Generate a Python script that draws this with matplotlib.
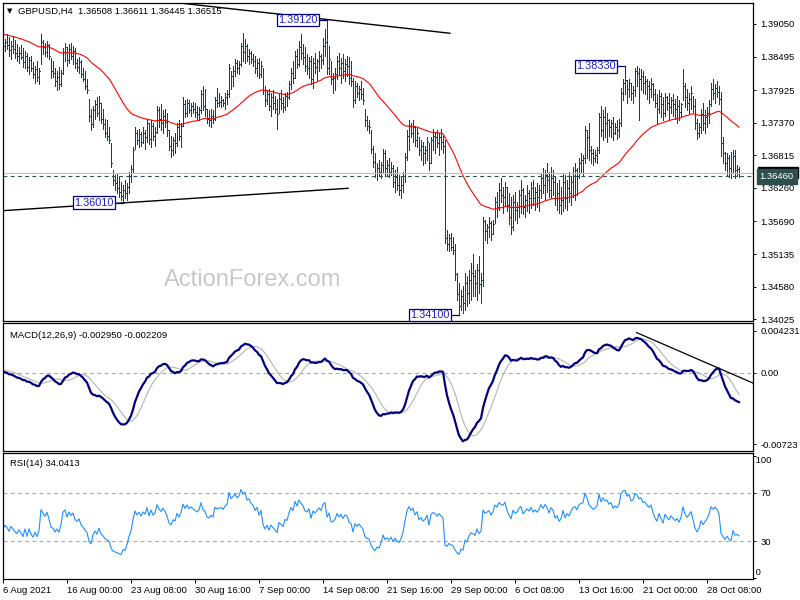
import numpy as np
import matplotlib
matplotlib.use("Agg")
import matplotlib.pyplot as plt
from matplotlib.patches import Rectangle

# ---------------- data (GBPUSD H4) ----------------
highs = [
1.3885,1.3880,1.3888,1.3883,1.3876,1.3885,1.3878,1.3871,1.3866,1.3870,
1.3864,1.3859,1.3856,1.3849,1.3851,1.3840,1.3834,1.3842,1.3830,1.3888,
1.3878,1.3873,1.3876,1.3871,1.3847,1.3842,1.3830,1.3825,1.3832,1.3827,
1.3864,1.3873,1.3866,1.3871,1.3873,1.3868,1.3864,1.3846,1.3849,1.3844,
1.3830,1.3825,1.3812,1.3778,1.3760,1.3766,1.3775,1.3780,1.3783,1.3771,
1.3761,1.3744,1.3741,1.3729,1.3702,1.3656,1.3648,1.3651,1.3644,1.3636,
1.3631,1.3639,1.3634,1.3653,1.3665,1.3695,1.3729,1.3724,1.3727,1.3722,
1.3729,1.3724,1.3744,1.3737,1.3741,1.3736,1.3729,1.3766,1.3763,1.3768,
1.3758,1.3761,1.3754,1.3724,1.3715,1.3712,1.3720,1.3736,1.3741,1.3736,
1.3780,1.3775,1.3778,1.3775,1.3771,1.3773,1.3770,1.3766,1.3763,1.3792,
1.3800,1.3795,1.3761,1.3758,1.3761,1.3758,1.3780,1.3796,1.3787,1.3783,
1.3778,1.3787,1.3792,1.3837,1.3825,1.3834,1.3846,1.3844,1.3842,1.3873,
1.3890,1.3880,1.3871,1.3863,1.3859,1.3854,1.3851,1.3846,1.3847,1.3842,
1.3830,1.3800,1.3792,1.3795,1.3788,1.3792,1.3783,1.3778,1.3785,1.3792,
1.3780,1.3788,1.3790,1.3808,1.3830,1.3842,1.3859,1.3863,1.3876,1.3888,
1.3871,1.3866,1.3854,1.3849,1.3851,1.3847,1.3856,1.3846,1.3859,1.3854,
1.3881,1.3897,1.3912,1.3868,1.3842,1.3822,1.3830,1.3851,1.3856,1.3847,
1.3854,1.3846,1.3851,1.3849,1.3842,1.3813,1.3808,1.3805,1.3800,1.3808,
1.3796,1.3761,1.3749,1.3741,1.3724,1.3698,1.3685,1.3668,1.3673,1.3670,
1.3693,1.3690,1.3673,1.3677,1.3670,1.3665,1.3656,1.3661,1.3648,1.3644,
1.3653,1.3685,1.3724,1.3741,1.3737,1.3741,1.3732,1.3729,1.3712,1.3707,
1.3704,1.3698,1.3712,1.3702,1.3712,1.3727,1.3720,1.3724,1.3719,1.3727,
1.3715,1.3707,1.3555,1.3547,1.3550,1.3543,1.3530,1.3482,1.3465,1.3453,
1.3459,1.3482,1.3476,1.3487,1.3499,1.3513,1.3487,1.3496,1.3510,1.3482,
1.3577,1.3572,1.3564,1.3577,1.3569,1.3572,1.3611,1.3619,1.3634,1.3643,
1.3628,1.3636,1.3628,1.3617,1.3611,1.3614,1.3619,1.3602,1.3622,1.3639,
1.3626,1.3614,1.3631,1.3622,1.3636,1.3639,1.3628,1.3634,1.3631,1.3651,
1.3660,1.3656,1.3668,1.3653,1.3661,1.3656,1.3646,1.3634,1.3639,1.3628,
1.3651,1.3648,1.3639,1.3653,1.3646,1.3661,1.3668,1.3660,1.3677,1.3685,
1.3682,1.3732,1.3724,1.3737,1.3698,1.3693,1.3690,1.3695,1.3754,1.3766,
1.3758,1.3763,1.3754,1.3744,1.3741,1.3746,1.3737,1.3741,1.3744,1.3796,
1.3812,1.3833,1.3810,1.3812,1.3805,1.3800,1.3830,1.3834,1.3830,1.3829,
1.3825,1.3817,1.3812,1.3808,1.3813,1.3805,1.3795,1.3785,1.3792,1.3788,
1.3780,1.3788,1.3783,1.3787,1.3780,1.3785,1.3778,1.3783,1.3775,1.3771,
1.3829,1.3805,1.3795,1.3788,1.3800,1.3783,1.3778,1.3744,1.3737,1.3761,
1.3771,1.3758,1.3763,1.3775,1.3805,1.3812,1.3803,1.3808,1.3800,1.3790,
1.3712,1.3687,1.3685,1.3682,1.3687,1.3690,1.3690,1.3665,1.36611]

lows = [
1.3856,1.3859,1.3863,1.3851,1.3846,1.3856,1.3847,1.3842,1.3839,1.3846,
1.3832,1.3830,1.3825,1.3820,1.3825,1.3813,1.3805,1.3808,1.3803,1.3837,
1.3854,1.3851,1.3849,1.3846,1.3813,1.3815,1.3800,1.3792,1.3795,1.3800,
1.3820,1.3842,1.3834,1.3839,1.3846,1.3837,1.3830,1.3825,1.3822,1.3815,
1.3808,1.3795,1.3787,1.3740,1.3724,1.3730,1.3744,1.3749,1.3741,1.3737,
1.3727,1.3712,1.3707,1.3702,1.3661,1.3631,1.3622,1.3617,1.3611,1.3605,
1.3601,1.3609,1.3605,1.3617,1.3636,1.3651,1.3693,1.3700,1.3695,1.3698,
1.3702,1.3693,1.3704,1.3700,1.3695,1.3707,1.3698,1.3720,1.3729,1.3724,
1.3719,1.3729,1.3715,1.3690,1.3678,1.3682,1.3685,1.3698,1.3707,1.3695,
1.3732,1.3746,1.3749,1.3753,1.3749,1.3754,1.3746,1.3744,1.3741,1.3754,
1.3758,1.3749,1.3737,1.3732,1.3729,1.3736,1.3741,1.3763,1.3766,1.3763,
1.3766,1.3761,1.3768,1.3780,1.3795,1.3800,1.3817,1.3822,1.3820,1.3834,
1.3842,1.3839,1.3842,1.3837,1.3839,1.3834,1.3822,1.3817,1.3813,1.3815,
1.3785,1.3766,1.3768,1.3758,1.3749,1.3761,1.3754,1.3727,1.3753,1.3761,
1.3756,1.3758,1.3766,1.3778,1.3795,1.3805,1.3813,1.3830,1.3834,1.3846,
1.3837,1.3825,1.3820,1.3813,1.3803,1.3796,1.3822,1.3808,1.3825,1.3830,
1.3837,1.3851,1.3820,1.3820,1.3803,1.3788,1.3792,1.3812,1.3820,1.3805,
1.3813,1.3808,1.3817,1.3803,1.3800,1.3763,1.3771,1.3780,1.3775,1.3778,
1.3768,1.3732,1.3724,1.3720,1.3685,1.3661,1.3644,1.3639,1.3646,1.3643,
1.3651,1.3646,1.3648,1.3644,1.3648,1.3628,1.3619,1.3622,1.3614,1.3609,
1.3619,1.3636,1.3673,1.3690,1.3712,1.3704,1.3698,1.3695,1.3682,1.3673,
1.3665,1.3668,1.3673,1.3656,1.3668,1.3690,1.3685,1.3695,1.3682,1.3693,
1.3685,1.3533,1.3521,1.3518,1.3521,1.3513,1.3470,1.3436,1.3410,1.3419,
1.3414,1.3419,1.3425,1.3431,1.3436,1.3442,1.3442,1.3436,1.3448,1.3431,
1.3459,1.3538,1.3533,1.3543,1.3538,1.3547,1.3567,1.3577,1.3589,1.3602,
1.3584,1.3597,1.3586,1.3564,1.3547,1.3555,1.3572,1.3567,1.3577,1.3584,
1.3581,1.3577,1.3586,1.3584,1.3592,1.3597,1.3589,1.3594,1.3586,1.3609,
1.3617,1.3605,1.3619,1.3611,1.3609,1.3614,1.3597,1.3589,1.3584,1.3581,
1.3586,1.3592,1.3589,1.3602,1.3597,1.3611,1.3605,1.3614,1.3643,1.3651,
1.3648,1.3668,1.3677,1.3673,1.3668,1.3665,1.3670,1.3668,1.3685,1.3715,
1.3707,1.3712,1.3704,1.3715,1.3712,1.3707,1.3717,1.3710,1.3712,1.3732,
1.3775,1.3785,1.3771,1.3780,1.3775,1.3770,1.3783,1.3800,1.3741,1.3792,
1.3788,1.3785,1.3778,1.3771,1.3780,1.3775,1.3763,1.3737,1.3754,1.3746,
1.3741,1.3749,1.3758,1.3744,1.3754,1.3749,1.3744,1.3737,1.3741,1.3746,
1.3775,1.3763,1.3758,1.3754,1.3761,1.3756,1.3727,1.3710,1.3712,1.3719,
1.3724,1.3720,1.3729,1.3737,1.3766,1.3778,1.3771,1.3780,1.3768,1.3680,
1.3668,1.3656,1.3648,1.3644,1.3643,1.3653,1.3643,1.3646,1.36445]

closes = [
1.3868,1.3875,1.3870,1.3860,1.3868,1.3862,1.3855,1.3851,1.3856,1.3849,
1.3840,1.3851,1.3832,1.3844,1.3830,1.3820,1.3828,1.3815,1.3825,1.3875,
1.3866,1.3858,1.3869,1.3851,1.3825,1.3822,1.3808,1.3815,1.3803,1.3822,
1.3858,1.3866,1.3844,1.3862,1.3851,1.3859,1.3839,1.3832,1.3840,1.3820,
1.3812,1.3800,1.3792,1.3749,1.3735,1.3758,1.3768,1.3754,1.3770,1.3744,
1.3735,1.3720,1.3715,1.3707,1.3668,1.3640,1.3634,1.3626,1.3619,1.3612,
1.3622,1.3617,1.3628,1.3646,1.3658,1.3690,1.3720,1.3707,1.3717,1.3705,
1.3719,1.3712,1.3736,1.3710,1.3732,1.3715,1.3722,1.3758,1.3744,1.3736,
1.3749,1.3739,1.3724,1.3698,1.3690,1.3707,1.3702,1.3729,1.3715,1.3732,
1.3768,1.3754,1.3770,1.3758,1.3766,1.3760,1.3756,1.3751,1.3758,1.3785,
1.3766,1.3761,1.3744,1.3741,1.3749,1.3744,1.3775,1.3771,1.3773,1.3775,
1.3771,1.3780,1.3785,1.3830,1.3817,1.3825,1.3839,1.3830,1.3837,1.3868,
1.3858,1.3868,1.3851,1.3856,1.3846,1.3842,1.3830,1.3839,1.3820,1.3834,
1.3792,1.3775,1.3785,1.3766,1.3780,1.3770,1.3761,1.3751,1.3778,1.3771,
1.3763,1.3783,1.3780,1.3803,1.3822,1.3813,1.3851,1.3837,1.3866,1.3856,
1.3849,1.3834,1.3830,1.3842,1.3812,1.3839,1.3832,1.3842,1.3851,1.3844,
1.3868,1.3875,1.3830,1.3846,1.3812,1.3813,1.3820,1.3842,1.3830,1.3839,
1.3825,1.3837,1.3834,1.3813,1.3808,1.3775,1.3800,1.3788,1.3795,1.3785,
1.3775,1.3741,1.3732,1.3729,1.3693,1.3670,1.3651,1.3660,1.3653,1.3665,
1.3685,1.3660,1.3665,1.3653,1.3660,1.3636,1.3644,1.3631,1.3622,1.3631,
1.3646,1.3678,1.3715,1.3732,1.3720,1.3729,1.3707,1.3719,1.3690,1.3698,
1.3685,1.3690,1.3704,1.3668,1.3707,1.3715,1.3712,1.3702,1.3712,1.3704,
1.3698,1.3540,1.3530,1.3540,1.3526,1.3521,1.3479,1.3445,1.3425,1.3442,
1.3431,1.3465,1.3448,1.3470,1.3482,1.3476,1.3465,1.3487,1.3462,1.3470,
1.3569,1.3552,1.3559,1.3567,1.3547,1.3564,1.3602,1.3594,1.3622,1.3614,
1.3611,1.3628,1.3597,1.3577,1.3560,1.3602,1.3589,1.3594,1.3614,1.3622,
1.3594,1.3605,1.3617,1.3609,1.3626,1.3609,1.3619,1.3611,1.3622,1.3643,
1.3631,1.3648,1.3639,1.3622,1.3643,1.3636,1.3609,1.3617,1.3597,1.3605,
1.3636,1.3609,1.3626,1.3617,1.3636,1.3651,1.3656,1.3646,1.3668,1.3673,
1.3677,1.3724,1.3712,1.3690,1.3685,1.3677,1.3682,1.3690,1.3746,1.3724,
1.3746,1.3737,1.3741,1.3729,1.3736,1.3720,1.3729,1.3724,1.3737,1.3788,
1.3805,1.3810,1.3795,1.3805,1.3788,1.3792,1.3825,1.3822,1.3812,1.3817,
1.3805,1.3808,1.3800,1.3795,1.3803,1.3785,1.3771,1.3761,1.3783,1.3768,
1.3754,1.3780,1.3771,1.3763,1.3775,1.3768,1.3761,1.3766,1.3756,1.3768,
1.3800,1.3780,1.3771,1.3778,1.3788,1.3766,1.3736,1.3720,1.3729,1.3751,
1.3737,1.3746,1.3754,1.3768,1.3795,1.3788,1.3796,1.3790,1.3778,1.3702,
1.3685,1.3668,1.3677,1.3660,1.3651,1.3680,1.3656,1.3658,1.36515]

date_labels = ["6 Aug 2021", "16 Aug 00:00", "23 Aug 08:00", "30 Aug 16:00",
               "7 Sep 00:00", "14 Sep 08:00", "21 Sep 16:00", "29 Sep 00:00",
               "6 Oct 08:00", "13 Oct 16:00", "21 Oct 00:00", "28 Oct 08:00"]
date_bars = [0, 32, 64, 96, 128, 160, 192, 224, 256, 288, 320, 352]
price_ticks = [1.39050, 1.38495, 1.37925, 1.37370, 1.36815,
               1.36260, 1.35690, 1.35135, 1.34580, 1.34025]

# indicator start values carried over from history before the first bar
ema55_seed = 1.3888
ema12_seed, ema26_seed = 1.3880, 1.3878
signal_seed = 0.0003
rsi_gain_seed, rsi_loss_seed = 0.0004, 0.0006

header_ohlc = "GBPUSD,H4  1.36508 1.36611 1.36445 1.36515"
macd_header = "MACD(12,26,9) -0.002950 -0.002209"
rsi_header = "RSI(14) 34.0413"
hline_level = 1.36460

# marked extremes: (bar index, price)
extreme_bars = [162, 311, 228, 60]
extreme_prices = [1.39120, 1.38330, 1.34100, 1.36010]

# trend lines: bar indices and values
upper_tl_x, upper_tl_y = [87, 223.5], [1.39412, 1.38892]
lower_tl_x, lower_tl_y = [-0.15, 172.5], [1.35873, 1.36254]
macd_tl_x, macd_tl_y = [316.8, 375.0], [0.00406, -0.00104]

# ---------------- indicators ----------------
c = np.array(closes)
n = len(c)
idx = np.arange(n)


def ema(vals, period, seed):
    a = 2.0 / (period + 1)
    out = np.empty(len(vals))
    prev = seed
    for k, v in enumerate(vals):
        prev = prev + a * (v - prev)
        out[k] = prev
    return out


ma55 = ema(c, 55, ema55_seed)
macd = ema(c, 12, ema12_seed) - ema(c, 26, ema26_seed)
padded = np.concatenate([np.full(8, signal_seed), macd])
signal = np.array([padded[k:k + 9].mean() for k in range(n)])

rsi = np.empty(n)
ag, al = rsi_gain_seed, rsi_loss_seed
prev = c[0]
for k in range(n):
    d = c[k] - prev
    prev = c[k]
    ag = (ag * 13 + max(d, 0)) / 14
    al = (al * 13 + max(-d, 0)) / 14
    rsi[k] = 100 * ag / (ag + al)

# ---------------- figure ----------------
FONT = "Liberation Sans"
plt.rcParams['font.family'] = [FONT, 'DejaVu Sans']
W, H = 800, 600
fig = plt.figure(figsize=(8, 6), dpi=100)
fig.patch.set_facecolor("white")

xl, xr = 2.7, 753.0


def add_panel(ytop, ybot):
    return fig.add_axes([xl / W, 1 - ybot / H, (xr - xl) / W, (ybot - ytop) / H])


axp = add_panel(2.7, 321.0)
axm = add_panel(323.3, 451.0)
axr = add_panel(453.3, 579.3)

xlim = (-0.15, 375.0)
for ax in (axp, axm, axr):
    ax.set_xlim(*xlim)
    for s in ax.spines.values():
        s.set_color("black")
        s.set_linewidth(0.9)
    ax.yaxis.tick_right()
    ax.tick_params(axis='y', direction='out', length=2.5, width=0.7, pad=3,
                   labelsize=6.8, colors='black')
    ax.set_facecolor("white")

# ---- price panel ----
bar_color = "#143E5C"
axp.vlines(idx, lows, highs, color=bar_color, linewidth=0.72, antialiased=False)
axp.hlines(closes, idx, idx + 0.5, color=bar_color, linewidth=0.72, antialiased=False)
axp.plot(idx, ma55, color="#FF0000", linewidth=0.8)
axp.set_ylim(1.33996, 1.39412)
axp.set_yticks(price_ticks)
axp.set_yticklabels([f"{v:.5f}" for v in price_ticks])
axp.set_xticks([])

# bid line & horizontal level
axp.axhline(closes[-1], color="#C0C0C0", linewidth=0.9)
axp.axhline(hline_level, color="#2F4F4F", linewidth=0.8, linestyle=(0, (3.5, 3)))

# trend lines
axp.plot(upper_tl_x, upper_tl_y, color="black", linewidth=1.0)
axp.plot(lower_tl_x, lower_tl_y, color="black", linewidth=1.0)

# extreme labels
for b, p in zip(extreme_bars, extreme_prices):
    xt = b - 4.5
    axp.plot([xt, b], [p, p], color="#000080", linewidth=0.9)
    axp.text(xt, p, f"{p:.5f}", ha="right", va="center", fontsize=7.8,
             color="#1E1EC8", family=FONT,
             bbox=dict(boxstyle="square,pad=0.12", facecolor="white",
                       edgecolor="#000080", linewidth=0.9))

# bid price tag (mostly hidden) and level tag on right axis
px_per_price = 1 / 0.00017017
axp.add_patch(Rectangle((1.006, closes[-1] - 5.5 / px_per_price), 0.054, 11 / px_per_price,
                        transform=axp.get_yaxis_transform(), facecolor="black",
                        edgecolor="black", clip_on=False, zorder=2))
axp.text(1.009, hline_level, f"{hline_level:.5f}", transform=axp.get_yaxis_transform(),
         ha="left", va="center", fontsize=6.8, color="white", clip_on=False, zorder=5,
         bbox=dict(boxstyle="square,pad=0.3", facecolor="#2F4F4F", edgecolor="#2F4F4F"))

# watermark
axp.text(250 / 750.3, 1 - (280 - 2.7) / 318.3, "ActionForex.com", transform=axp.transAxes,
         ha="center", va="center", fontsize=17, color="#C8C8C8", family=FONT)

# header
fig.text(6.5 / W, 1 - 11 / H, "\u25bc", fontsize=5, family="DejaVu Sans",
         va="center", ha="left", color="black")
fig.text(18 / W, 1 - 11 / H, header_ohlc, fontsize=6.8, va="center", ha="left",
         color="black")

# ---- MACD panel ----
axm.axhline(0.0, color="#A8A8A8", linewidth=0.8, linestyle=(0, (3.5, 3)))
axm.plot(idx, signal, color="#B4B4B4", linewidth=0.8)
axm.plot(idx, macd, color="#000080", linewidth=1.6)
axm.plot(macd_tl_x, macd_tl_y, color="black", linewidth=0.9)
axm.set_ylim(-0.0079, 0.0050)
macd_ticks = [0.004231, 0.0, -0.00723]
axm.set_yticks(macd_ticks)
axm.set_yticklabels(["0.004231", "0.00", "-0.00723"])
axm.set_xticks([])
axm.text(7 / 750.3, 1 - (335 - 323.3) / 127.7, macd_header, transform=axm.transAxes,
         fontsize=6.8, va="center", ha="left", color="black")

# ---- RSI panel ----
for lvl in (70, 30):
    axr.axhline(lvl, color="#A8A8A8", linewidth=0.8, linestyle=(0, (3.5, 3)))
axr.plot(idx, rsi, color="#1E90FF", linewidth=0.8)
axr.set_ylim(-1.2, 102.3)
axr.set_yticks([100, 70, 30, 0])
axr.set_yticklabels(["", "70", "30", ""])
axr.text(1.0, 96.5, " 100", transform=axr.get_yaxis_transform(), ha="left",
         va="center", fontsize=6.8, clip_on=False)
axr.text(1.0, 4.5, " 0", transform=axr.get_yaxis_transform(), ha="left",
         va="center", fontsize=6.8, clip_on=False)
axr.text(7 / 750.3, 1 - (463 - 453.3) / 126.0, rsi_header, transform=axr.transAxes,
         fontsize=6.8, va="center", ha="left", color="black")

axr.set_xticks(date_bars)
axr.set_xticklabels(date_labels)
axr.tick_params(axis='x', direction='out', length=3, width=0.7, pad=1.5,
                labelsize=6.8, colors='black')
for lbl in axr.get_xticklabels():
    lbl.set_horizontalalignment('left')

fig.savefig("out.png", dpi=100, facecolor="white")
